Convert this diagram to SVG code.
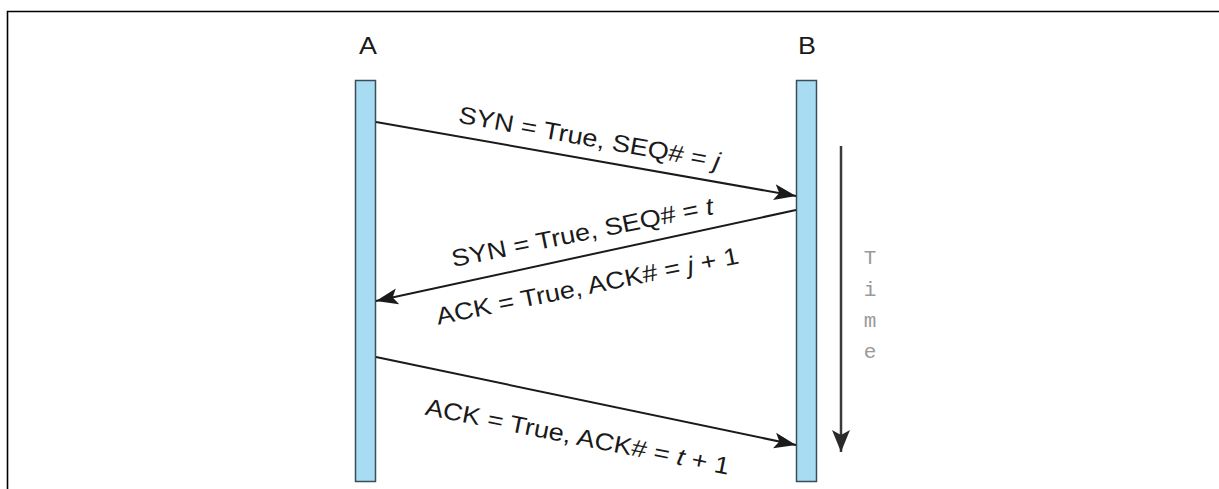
<svg xmlns="http://www.w3.org/2000/svg" width="1219" height="489" viewBox="0 0 1219 489">
<defs>
<style>
.lbl{font-family:"Liberation Sans",Arial,sans-serif;font-size:24px;fill:#1a1a1a;text-anchor:middle}
.bar{fill:#a8dcf2;stroke:#3b4d5a;stroke-width:1.5}
.msg{stroke:#1a1a1a;stroke-width:2;fill:none}
.time{font-family:"Liberation Mono","Courier New",monospace;font-size:21px;fill:#9a9a9a;text-anchor:middle}
</style>
<marker id="ah" markerUnits="userSpaceOnUse" markerWidth="24" markerHeight="18" refX="22" refY="9" orient="auto">
<path d="M0,1 L22,9 L0,17 L5,9 z" fill="#1a1a1a"/>
</marker>
<marker id="th" markerUnits="userSpaceOnUse" markerWidth="24" markerHeight="20" refX="22" refY="10" orient="auto">
<path d="M0,1 L22,10 L0,19 L5,10 z" fill="#2a2a2a"/>
</marker>
</defs>
<path d="M7.5,489 V11.5 H1219" fill="none" stroke="#000" stroke-width="1.6"/>
<g id="nodeA">
<text class="lbl" transform="translate(368,54) scale(1.12,1)">A</text>
<rect class="bar" x="355.5" y="80.5" width="20" height="401"/>
</g>
<g id="nodeB">
<text class="lbl" transform="translate(807,54) scale(1.12,1)">B</text>
<rect class="bar" x="796.5" y="80.5" width="20" height="401"/>
</g>
<g id="connectors">
<line class="msg" x1="376" y1="122" x2="796" y2="196" marker-end="url(#ah)"/>
<line class="msg" x1="796" y1="210" x2="376" y2="301" marker-end="url(#ah)"/>
<line class="msg" x1="376" y1="357" x2="796" y2="445" marker-end="url(#ah)"/>
<line x1="841" y1="146" x2="841" y2="452" stroke="#3a3a3a" stroke-width="2.5" marker-end="url(#th)"/>
</g>
<g id="labels">
<text class="lbl" transform="translate(588,146) rotate(10.2) scale(1.13,1)">SYN = True, SEQ# = <tspan font-style="italic">j</tspan></text>
<text class="lbl" transform="translate(584,240.5) rotate(-11.5) scale(1.13,1)">SYN = True, SEQ# = <tspan font-style="italic">t</tspan></text>
<text class="lbl" transform="translate(589,294) rotate(-11.5) scale(1.13,1)">ACK = True, ACK# = <tspan font-style="italic">j</tspan> + 1</text>
<text class="lbl" transform="translate(576,444.5) rotate(11.2) scale(1.13,1)">ACK = True, ACK# = <tspan font-style="italic">t</tspan> + 1</text>
</g>
<g id="time">
<text class="time" x="870" y="264">T</text>
<text class="time" x="870" y="296">i</text>
<text class="time" x="870" y="327">m</text>
<text class="time" x="870" y="358">e</text>
</g>
</svg>
